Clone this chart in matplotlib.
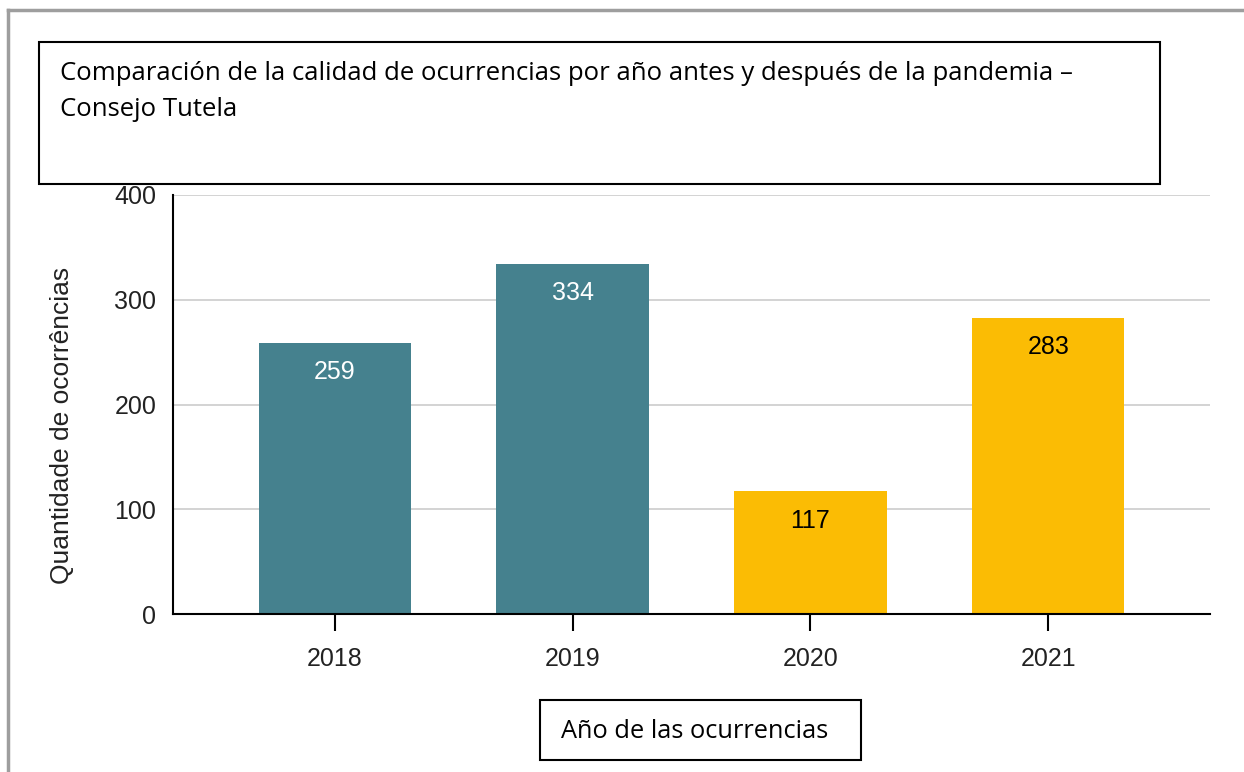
import matplotlib.pyplot as plt
from matplotlib.patches import Rectangle
from matplotlib.lines import Line2D

years = ['2018', '2019', '2020', '2021']
counts = [259, 334, 117, 283]
bar_colors = ['#45818e', '#45818e', '#fbbc04', '#fbbc04']
label_colors = ['white', 'white', 'black', 'black']

title_lines = ['Comparación de la calidad de ocurrencias por año antes y después de la pandemia –',
               'Consejo Tutela']
xlabel = 'Año de las ocurrencias'
ylabel = 'Quantidade de ocorrências'

W, H = 1244, 772
fig = plt.figure(figsize=(W / 100, H / 100), dpi=100)
plt.rcParams['font.family'] = ['Liberation Sans', 'DejaVu Sans']

ax = fig.add_axes([173 / W, 1 - 614 / H, (1210 - 173) / W, (614 - 195) / H])
x = list(range(len(years)))
ax.bar(x, counts, width=0.64, color=bar_colors, zorder=2)
for xi, v, c in zip(x, counts, label_colors):
    ax.text(xi, v - 28, str(v), ha='center', va='center', fontsize=18, color=c, zorder=3)

ax.set_xlim(-0.68, 3.68)
ax.set_ylim(0, 400)
ax.set_yticks([0, 100, 200, 300, 400])
ax.set_xticks(x)
ax.set_xticklabels(years)
ax.grid(axis='y', color='#cccccc', linewidth=1.2, zorder=0)
ax.set_axisbelow(True)
for s in ['top', 'right']:
    ax.spines[s].set_visible(False)
for s in ['left', 'bottom']:
    ax.spines[s].set_color('black')
    ax.spines[s].set_linewidth(1.5)
    ax.spines[s].set_zorder(4)
ax.tick_params(axis='y', length=0, pad=12, labelsize=18, labelcolor='#222222')
ax.tick_params(axis='x', direction='inout', length=25, width=1.5, pad=11, labelsize=18, labelcolor='#222222')
ax.set_ylabel(ylabel, fontsize=19, color='#222222', va='center')
ax.yaxis.set_label_coords(-0.107, 0.451)

# outer gray frame
fig.add_artist(Line2D([8 / W, 1], [1 - 10 / H, 1 - 10 / H], color='#9e9e9e', linewidth=2.5))
fig.add_artist(Line2D([8 / W, 8 / W], [0, 1 - 10 / H], color='#9e9e9e', linewidth=2.5))

# title box
fig.add_artist(Rectangle((39 / W, 1 - 184 / H), (1160 - 39) / W, (184 - 42) / H,
                         facecolor='white', edgecolor='black', linewidth=1.5, zorder=10))
for line, yy in zip(title_lines, [73, 110]):
    fig.text(60 / W, 1 - yy / H, line, ha='left', va='center', fontsize=18.5,
             family=['Open Sans', 'DejaVu Sans'], zorder=11)

# x label box
fig.add_artist(Rectangle((540 / W, 1 - 760 / H), (861 - 540) / W, (760 - 700) / H,
                         facecolor='white', edgecolor='black', linewidth=1.5, zorder=10))
fig.text(561 / W, 1 - 731 / H, xlabel, ha='left', va='center', fontsize=18.3,
         family=['Open Sans', 'DejaVu Sans'], zorder=11)

fig.savefig('out.png', dpi=100)
